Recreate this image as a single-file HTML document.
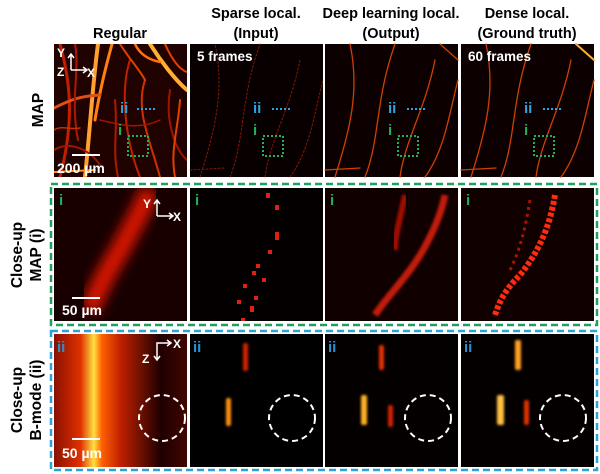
<!DOCTYPE html>
<html><head><meta charset="utf-8"><style>
body{margin:0;background:#fff;width:600px;height:474px;overflow:hidden}
svg{display:block}
text{font-family:"Liberation Sans",sans-serif;font-weight:bold}
</style></head><body>
<svg width="600" height="474" viewBox="0 0 600 474">
<defs>
<filter id="b1"><feGaussianBlur stdDeviation="1.2"/></filter>
<filter id="b4"><feGaussianBlur stdDeviation="6"/></filter>
<linearGradient id="bm" x1="0" x2="1">
<stop offset="0" stop-color="#8a1000"/><stop offset="0.2" stop-color="#e03000"/><stop offset="0.3" stop-color="#ffe040"/><stop offset="0.36" stop-color="#ff6000"/><stop offset="0.5" stop-color="#c02000"/><stop offset="0.65" stop-color="#701000"/><stop offset="0.8" stop-color="#200000"/><stop offset="1" stop-color="#400500"/>
</linearGradient>
<clipPath id="c1"><rect x="54" y="44" width="133" height="133"/></clipPath>
<clipPath id="c2"><rect x="54" y="188" width="133" height="133"/></clipPath>
</defs>

<g font-size="14.5" text-anchor="middle" fill="#000">
<text x="120" y="38">Regular</text>
<text x="256" y="18">Sparse local.</text>
<text x="256" y="38">(Input)</text>
<text x="391" y="18">Deep learning local.</text>
<text x="391" y="38">(Output)</text>
<text x="527" y="18">Dense local.</text>
<text x="527" y="38">(Ground truth)</text>
</g>

<g font-size="15.5" text-anchor="middle" fill="#000">
<text transform="translate(43,110) rotate(-90)">MAP</text>
<text transform="translate(22,255) rotate(-90)">Close-up</text>
<text transform="translate(41,255) rotate(-90)">MAP (i)</text>
<text transform="translate(22,400) rotate(-90)">Close-up</text>
<text transform="translate(41,400) rotate(-90)">B-mode (ii)</text>
</g>

<g>
<rect x="54" y="44" width="133" height="133" fill="#200200"/>
<g clip-path="url(#c1)" fill="none" stroke-linecap="round">
<path d="M60 44 C70 80 75 120 60 177" stroke="#c02000" stroke-width="3"/>
<path d="M98 44 C92 90 90 130 85 177" stroke="#ffa030" stroke-width="4"/>
<path d="M112 44 C105 70 100 90 95 120" stroke="#ff8010" stroke-width="3"/>
<path d="M150 44 C160 60 175 80 187 90" stroke="#ffb030" stroke-width="4"/>
<path d="M165 44 C172 60 180 70 187 72" stroke="#e04000" stroke-width="2"/>
<path d="M54 108 C70 100 80 96 100 95" stroke="#e05010" stroke-width="3"/>
<path d="M130 60 C120 90 125 140 140 177" stroke="#c02000" stroke-width="2"/>
<path d="M145 80 C135 110 150 140 160 177" stroke="#d03000" stroke-width="2"/>
<path d="M115 100 C118 130 112 150 118 177" stroke="#b01800" stroke-width="2"/>
<path d="M170 90 C165 120 175 150 187 160" stroke="#a01500" stroke-width="2"/>
<path d="M54 150 C70 140 90 150 100 165" stroke="#a01500" stroke-width="2"/>
<path d="M54 172 L95 170" stroke="#ff9020" stroke-width="2"/>
<path d="M75 44 C80 70 70 100 78 140" stroke="#b01800" stroke-width="2"/>
<path d="M120 44 C130 60 140 70 145 80" stroke="#e04000" stroke-width="2"/>
<path d="M100 120 C120 125 140 130 160 120" stroke="#a01500" stroke-width="1.5"/>
<path d="M54 130 C62 125 70 130 80 128" stroke="#c03000" stroke-width="1.5"/>
<path d="M180 100 C178 130 170 150 175 177" stroke="#e04000" stroke-width="2"/>
<path d="M135 44 C140 55 150 60 160 62" stroke="#ff7010" stroke-width="2.5"/>
</g>
<rect x="190" y="44" width="133" height="133" fill="#080000"/>
<rect x="325" y="44" width="133" height="133" fill="#0c0000"/>
<rect x="461" y="44" width="133" height="133" fill="#0c0000"/>
<g fill="none" stroke-linecap="round" stroke-dasharray="2 2">
<g stroke="#a02000" stroke-width="1" opacity="0.8">
<path d="M200 177 C215 130 225 90 215 44"/><path d="M230 177 C245 140 240 100 260 44"/><path d="M265 177 C270 140 290 110 300 60"/><path d="M290 177 C310 150 315 110 323 80"/><path d="M190 170 L225 168"/>
</g>
<g stroke="#d04000" stroke-width="1.3" stroke-dasharray="none">
<path d="M335 177 C350 130 360 90 350 44"/><path d="M365 177 C380 140 375 100 395 44"/><path d="M400 177 C405 140 425 110 435 60"/><path d="M425 177 C445 150 450 110 458 80"/><path d="M325 170 L360 168"/><path d="M440 44 L458 60"/>
<path d="M471 177 C486 130 496 90 486 44"/><path d="M501 177 C516 140 511 100 531 44"/><path d="M536 177 C541 140 561 110 571 60"/><path d="M561 177 C581 150 586 110 594 80"/><path d="M461 170 L496 168"/><path d="M576 44 L594 60" stroke="#ffb030" stroke-width="2"/>
</g>
</g>
</g>

<g fill="#fff">
<text x="57" y="57" font-size="12">Y</text>
<path d="M71 70 V55 M68 58 L71 54 L74 58 M71 70 H86 M83 67 L87 70 L83 73" stroke="#fff" stroke-width="1.5" fill="none"/>
<text x="57" y="76" font-size="12">Z</text><text x="87" y="77" font-size="12">X</text>
<line x1="72" y1="155" x2="100" y2="155" stroke="#fff" stroke-width="2"/>
<text x="57" y="173" font-size="14">200 µm</text>
<text x="197" y="61" font-size="13.5">5 frames</text>
<text x="468" y="61" font-size="13.5">60 frames</text>
</g>
<g font-size="15">
<g>
<text x="120" y="113" fill="#2aa3e0">ii</text><text x="253" y="113" fill="#2aa3e0">ii</text><text x="388" y="113" fill="#2aa3e0">ii</text><text x="524" y="113" fill="#2aa3e0">ii</text>
<text x="118" y="135" fill="#20b060">i</text><text x="253" y="135" fill="#20b060">i</text><text x="388" y="135" fill="#20b060">i</text><text x="524" y="135" fill="#20b060">i</text>
</g>
<g stroke-dasharray="2 2" stroke-width="2" fill="none">
<line x1="137" y1="109" x2="157" y2="109" stroke="#2aa3e0"/><line x1="272" y1="109" x2="292" y2="109" stroke="#2aa3e0"/><line x1="407" y1="109" x2="427" y2="109" stroke="#2aa3e0"/><line x1="543" y1="109" x2="563" y2="109" stroke="#2aa3e0"/>
<rect x="128" y="136" width="20" height="20" stroke="#20b060"/><rect x="263" y="136" width="20" height="20" stroke="#20b060"/><rect x="398" y="136" width="20" height="20" stroke="#20b060"/><rect x="534" y="136" width="20" height="20" stroke="#20b060"/>
</g>
</g>

<rect x="51" y="184" width="546" height="141" fill="none" stroke="#20a060" stroke-width="2.5" stroke-dasharray="7 4"/>
<g>
<rect x="54" y="188" width="133" height="133" fill="#180000"/>
<g clip-path="url(#c2)">
<path d="M150 190 C140 215 130 230 120 250 C105 275 95 295 90 310" stroke="#e01800" stroke-width="20" fill="none" filter="url(#b4)" opacity="0.95"/>
</g>
<rect x="190" y="188" width="133" height="133" fill="#050000"/>
<rect x="325" y="188" width="133" height="133" fill="#100000"/>
<rect x="461" y="188" width="133" height="133" fill="#100000"/>
<g fill="#e02010">
<rect x="266" y="193" width="4" height="5"/><rect x="275" y="232" width="4" height="8"/><rect x="268" y="250" width="4" height="4"/><rect x="256" y="264" width="4" height="4"/><rect x="252" y="271" width="4" height="4"/><rect x="243" y="284" width="4" height="4"/><rect x="254" y="296" width="4" height="4"/><rect x="237" y="300" width="4" height="4"/><rect x="250" y="306" width="4" height="6"/><rect x="241" y="318" width="4" height="3"/><rect x="262" y="278" width="4" height="4"/><rect x="275" y="205" width="4" height="5"/>
</g>
<path d="M445 195 C440 220 425 250 410 270 C395 290 385 300 375 315" stroke="#e02010" stroke-width="7" fill="none" filter="url(#b1)" opacity="0.85"/>
<path d="M405 195 C400 220 395 235 395 250" stroke="#a01000" stroke-width="6" fill="none" filter="url(#b1)"/>
<path d="M555 195 C550 225 540 250 520 275 C505 290 500 300 495 315" stroke="#ff2a10" stroke-width="6" fill="none" stroke-dasharray="4 2"/>
<path d="M530 200 C525 230 520 250 510 270" stroke="#b01000" stroke-width="3" fill="none" stroke-dasharray="3 4"/>
</g>
<g fill="#20b060" font-size="15"><text x="59" y="205">i</text><text x="195" y="205">i</text><text x="330" y="205">i</text><text x="466" y="205">i</text></g>
<g fill="#fff">
<text x="143" y="208" font-size="12">Y</text>
<path d="M157 216 V201 M154 204 L157 200 L160 204 M157 216 H172 M169 213 L173 216 L169 219" stroke="#fff" stroke-width="1.5" fill="none"/>
<text x="173" y="221" font-size="12">X</text>
<line x1="72" y1="298" x2="100" y2="298" stroke="#fff" stroke-width="2"/>
<text x="62" y="315" font-size="14">50 µm</text>
</g>

<rect x="51" y="331" width="546" height="139" fill="none" stroke="#2aa3d8" stroke-width="2.5" stroke-dasharray="7 4"/>
<g>
<rect x="54" y="334" width="133" height="133" fill="url(#bm)"/>
<rect x="190" y="334" width="133" height="133" fill="#000"/>
<rect x="325" y="334" width="133" height="133" fill="#050000"/>
<rect x="461" y="334" width="133" height="133" fill="#050000"/>
<g filter="url(#b1)">
<rect x="243" y="343" width="5" height="28" rx="2" fill="#d02000"/>
<rect x="226" y="398" width="5" height="28" rx="2" fill="#ff9010"/>
<rect x="379" y="345" width="5" height="25" rx="2" fill="#e03000"/>
<rect x="361" y="395" width="6" height="30" rx="2" fill="#ffb020"/>
<rect x="388" y="405" width="5" height="22" rx="2" fill="#d02000"/>
<rect x="515" y="340" width="6" height="30" rx="2" fill="#ffa020"/>
<rect x="497" y="395" width="7" height="30" rx="2" fill="#ffc040"/>
<rect x="524" y="400" width="5" height="25" rx="2" fill="#e03000"/>
</g>
</g>
<g fill="#2a8fd0" font-size="15"><text x="57" y="352">ii</text><text x="193" y="352">ii</text><text x="328" y="352">ii</text><text x="464" y="352">ii</text></g>
<g fill="none" stroke="#fff" stroke-width="2" stroke-dasharray="6 4">
<circle cx="162" cy="418" r="23"/><circle cx="292" cy="418" r="23"/><circle cx="428" cy="418" r="23"/><circle cx="563" cy="418" r="23"/>
</g>
<g fill="#fff">
<path d="M157 352 V343 H170 M167 340 L171 343 L167 346 M157 352 V359 M154 356 L157 360 L160 356" stroke="#fff" stroke-width="1.5" fill="none"/>
<text x="142" y="363" font-size="12">Z</text><text x="173" y="348" font-size="12">X</text>
<line x1="72" y1="439" x2="100" y2="439" stroke="#fff" stroke-width="2"/>
<text x="62" y="458" font-size="14">50 µm</text>
</g>
</svg>
</body></html>
